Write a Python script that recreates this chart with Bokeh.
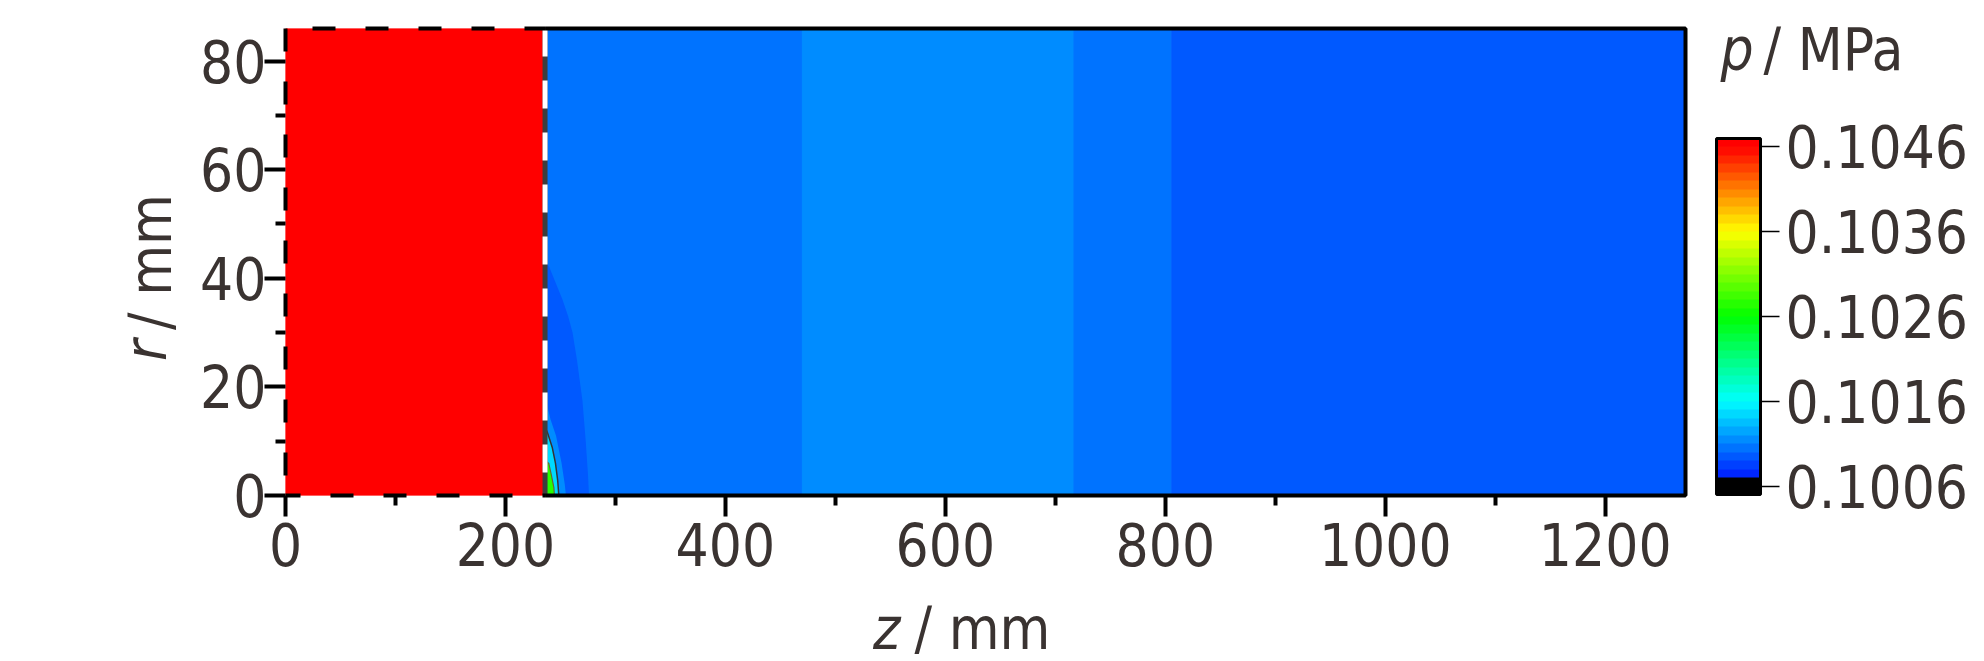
import math
from bokeh.plotting import figure
from bokeh.models import (LinearColorMapper, ColorBar, FixedTicker, PrintfTickFormatter,
                          Label, ColumnDataSource)
from bokeh.transform import transform
from bokeh.embed import file_html
from bokeh.resources import INLINE

# ---------------- data ----------------
z_max = 1273.0          # mm, axial extent
r_max = 86.0            # mm, radial extent
nozzle_z = 236.0        # mm, nozzle exit plane (white dashed line)

x_ticks = [0, 200, 400, 600, 800, 1000, 1200]
x_minor = [100, 300, 500, 700, 900, 1100]
y_ticks = [0, 20, 40, 60, 80]
y_minor = [10, 30, 50, 70]

# axial pressure zones (full radial height)
zone_z0 = [0.0, 236.0, 470.0, 717.0, 806.0]
zone_z1 = [236.0, 470.0, 717.0, 806.0, 1273.0]
zone_p = [0.10468, 0.10105, 0.10115, 0.10105, 0.10095]

# contour regions near the nozzle exit (boundary curves, r from top down to axis)
bulge_z = [236, 240, 246, 252, 257, 261, 265, 270, 273, 275, 276]
bulge_r = [43.5, 42, 39, 36, 33, 30, 25, 17.5, 10, 4, 0]
bulge_p = 0.10095
strip_z = [236, 241, 246, 251, 254, 255]
strip_r = [18.2, 14, 11, 6, 2, 0]
strip_p = 0.10115
cyan_z = [236, 238, 242.5, 245.5, 247.5, 248.5]
cyan_r = [12.5, 11.7, 8.9, 5.9, 2.8, 0]
cyan_p = 0.10145
green_z = [236, 239.4, 242, 244, 244.5]
green_r = [6.5, 5.9, 3.5, 1.5, 0]
green_p = 0.1028

# colour bar
cb_low, cb_high, cb_step = 0.1005, 0.1047, 0.0001
cb_ticks = [0.1006, 0.1016, 0.1026, 0.1036, 0.1046]
cb_black_below = 0.1007

# ---------------- style ----------------
FONT = "'DejaVu Sans Condensed', 'Liberation Sans Narrow', 'Liberation Sans', sans-serif"
TEXT = "#3a3331"
FS = "58px"

def rainbow(t):
    t = min(max(t, 0.0), 1.0)
    if t < 0.25:
        r, g, b = 0, t / 0.25, 1
    elif t < 0.5:
        r, g, b = 0, 1, 1 - (t - 0.25) / 0.25
    elif t < 0.75:
        r, g, b = (t - 0.5) / 0.25, 1, 0
    else:
        r, g, b = 1, 1 - (t - 0.75) / 0.25, 0
    return "#%02x%02x%02x" % (round(r * 255), round(g * 255), round(b * 255))

n_levels = int(round((cb_high - cb_low) / cb_step))
palette = []
for i in range(n_levels):
    c = cb_low + (i + 0.5) * cb_step
    if c < cb_black_below:
        palette.append("#000000")
    else:
        palette.append(rainbow((c - cb_ticks[0]) / (cb_ticks[-1] - cb_ticks[0])))

mapper = LinearColorMapper(palette=palette, low=cb_low, high=cb_high)

W, H = 1984, 661
FL, FT, FW, FH = 285, 28, 1400, 467
p = figure(width=W, height=H, x_range=(0, z_max), y_range=(0, r_max),
           output_backend="svg", toolbar_location=None,
           min_border_left=FL, min_border_right=W - FL - FW,
           min_border_top=FT, min_border_bottom=H - FT - FH)
p.outline_line_color = None
p.grid.visible = False
p.background_fill_color = "white"
p.border_fill_color = "white"

# zones
zsrc = ColumnDataSource(dict(left=zone_z0, right=zone_z1, bottom=[0.0] * len(zone_z0),
                             top=[r_max] * len(zone_z0), p=zone_p))
p.quad(left="left", right="right", bottom="bottom", top="top", source=zsrc,
       fill_color=transform("p", mapper), line_color=transform("p", mapper), line_width=1)

# contour patches
def closed(zs, rs):
    return list(zs) + [nozzle_z], list(rs) + [0.0]

pxs, pys = [], []
for zs, rs in [(bulge_z, bulge_r), (strip_z, strip_r), (cyan_z, cyan_r), (green_z, green_r)]:
    a, b = closed(zs, rs)
    pxs.append(a)
    pys.append(b)
psrc = ColumnDataSource(dict(xs=pxs, ys=pys, p=[bulge_p, strip_p, cyan_p, green_p]))
p.patches("xs", "ys", source=psrc, fill_color=transform("p", mapper), line_color=None)
p.line(cyan_z, cyan_r, line_color="#333333", line_width=1.5)
p.line(green_z, green_r, line_color="#666633", line_width=1.2)

# nozzle exit line: grey with white dashes
p.line([nozzle_z, nozzle_z], [r_max, 0], line_color="#3d3d3d", line_width=5)
p.line([nozzle_z, nozzle_z], [r_max, 0], line_color="white", line_width=5, line_dash="28 24")

# frame: dashed around the nozzle region, solid elsewhere
p.line([0, nozzle_z], [r_max, r_max], line_color="black", line_width=4,
       line_dash="23 30", line_dash_offset=26, level="overlay")
p.line([0, nozzle_z], [0, 0], line_color="black", line_width=4,
       line_dash="23 30", line_dash_offset=8, level="overlay")
p.line([0, 0], [r_max, 0], line_color="black", line_width=4,
       line_dash="23 30", line_dash_offset=0, level="overlay")
p.line([nozzle_z, z_max, z_max, nozzle_z], [r_max, r_max, 0, 0], line_color="black",
       line_width=4, level="overlay")

# axes
for ax in (p.xaxis[0], p.yaxis[0]):
    ax.axis_line_color = None
    ax.major_tick_line_color = "black"
    ax.major_tick_line_width = 4
    ax.major_tick_in = 0
    ax.major_tick_out = 21
    ax.minor_tick_line_color = "black"
    ax.minor_tick_line_width = 4
    ax.minor_tick_in = 0
    ax.minor_tick_out = 10
    ax.major_label_text_font = FONT
    ax.major_label_text_font_size = FS
    ax.major_label_text_color = TEXT
    ax.axis_label_text_font = FONT
    ax.axis_label_text_font_size = FS
    ax.axis_label_text_color = TEXT
    ax.axis_label_text_font_style = "normal"
p.xaxis[0].ticker = FixedTicker(ticks=x_ticks, minor_ticks=x_minor)
p.yaxis[0].ticker = FixedTicker(ticks=y_ticks, minor_ticks=y_minor)
p.xaxis[0].major_label_standoff = 6
p.yaxis[0].major_label_standoff = -2
p.yaxis[0].axis_label = "/ mm"
p.yaxis[0].axis_label_standoff = 12

# colour bar
cb = ColorBar(color_mapper=mapper, ticker=FixedTicker(ticks=cb_ticks),
              formatter=PrintfTickFormatter(format="%.4f"),
              orientation="vertical", width=44, height=356, location=(1431, 1),
              padding=0, margin=0,
              bar_line_color="black", bar_line_width=3,
              major_tick_line_color="black", major_tick_line_width=1.5,
              major_tick_in=0, major_tick_out=19, minor_tick_line_color=None,
              label_standoff=6,
              major_label_text_font=FONT, major_label_text_font_size=FS,
              major_label_text_color=TEXT,
              background_fill_color=None, border_line_color=None)
p.add_layout(cb, "center")

# axis-title pieces and colour-bar title (canvas pixel -> data helpers);
# placed in side panels so that they are not clipped to the frame
sx = FW / z_max
sy = FH / r_max
SHIFT = 23  # measured offset of Label baseline placement
def dx(px): return (px - FL) / sx
def dy(py): return (FT + FH - py) / sy

def lab(x, y, text, side, italic=False, angle=0.0, align="left"):
    p.add_layout(Label(x=dx(x), y=dy(y), text=text, text_font=FONT, text_font_size=FS,
                       text_color=TEXT, text_font_style="italic" if italic else "normal",
                       text_align=align, text_baseline="alphabetic", angle=angle), side)

lab(982, 651 - SHIFT, "/ mm", "below", align="center")
lab(900, 651 - SHIFT, "z", "right", italic=True, align="right")
lab(168 - SHIFT, 339, "r", "left", italic=True, angle=math.pi / 2, align="right")
lab(1720, 72 - SHIFT, "p", "right", italic=True)
lab(1763, 72 - SHIFT, "/ MPa", "right")

open("out.html", "w").write(file_html(p, INLINE))
